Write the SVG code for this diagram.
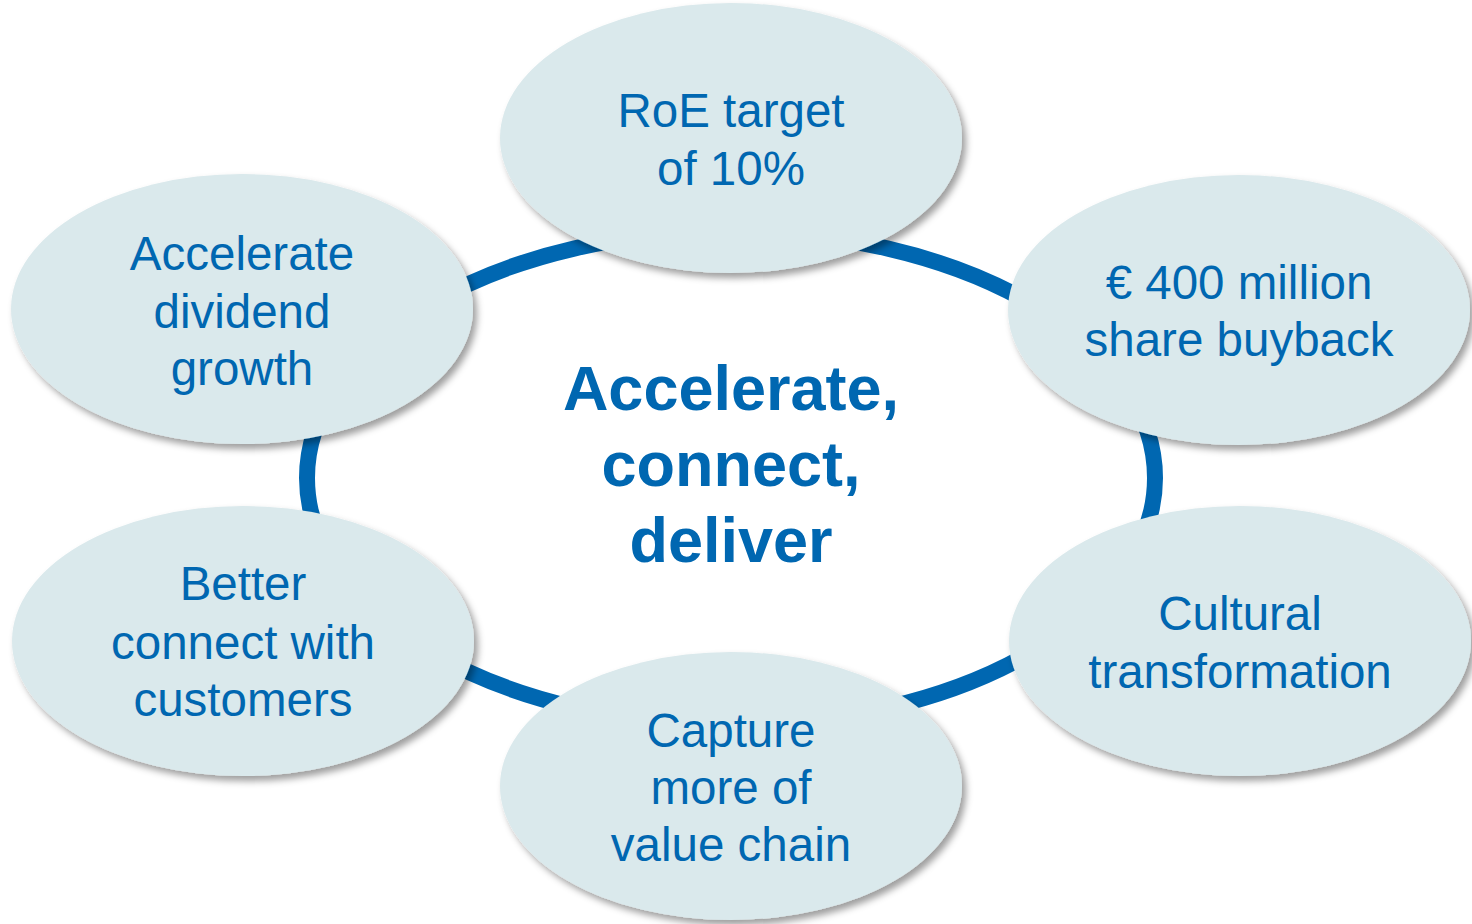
<svg xmlns="http://www.w3.org/2000/svg" width="1472" height="924" viewBox="0 0 1472 924">
  <defs>
    <filter id="shadow" x="-10%" y="-10%" width="125%" height="130%">
      <feDropShadow dx="4" dy="5" stdDeviation="3.5" flood-color="#000" flood-opacity="0.38"/>
    </filter>
    <style>
      .bubble { fill: #DAE9EC; filter: url(#shadow); }
      .label { font-family: "Liberation Sans", Arial, sans-serif; font-size: 47.5px; fill: #0067B1; text-anchor: middle; }
      .title { font-family: "Liberation Sans", Arial, sans-serif; font-size: 63px; font-weight: bold; fill: #0067B1; text-anchor: middle; }
      .ring { fill: none; stroke: #0067B1; stroke-width: 16; }
    </style>
  </defs>
  <rect width="1472" height="924" fill="#FFFFFF"/>

  <!-- connecting ring behind the bubbles -->
  <g id="connectors">
    <ellipse class="ring" cx="731" cy="478" rx="424" ry="247"/>
  </g>

  <g id="center">
    <text class="title" x="731" y="410">Accelerate,</text>
    <text class="title" x="731" y="486">connect,</text>
    <text class="title" x="731" y="562">deliver</text>
  </g>

  <g id="roe">
    <ellipse class="bubble" cx="731" cy="138" rx="231" ry="135"/>
    <text class="label" x="731" y="127">RoE target</text>
    <text class="label" x="731" y="185">of 10%</text>
  </g>

  <g id="buyback">
    <ellipse class="bubble" cx="1239" cy="310" rx="231" ry="135"/>
    <text class="label" x="1239" y="299">€ 400 million</text>
    <text class="label" x="1239" y="356">share buyback</text>
  </g>

  <g id="culture">
    <ellipse class="bubble" cx="1240" cy="641" rx="231" ry="135"/>
    <text class="label" x="1240" y="630">Cultural</text>
    <text class="label" x="1240" y="688">transformation</text>
  </g>

  <g id="value-chain">
    <ellipse class="bubble" cx="731" cy="786" rx="231" ry="134"/>
    <text class="label" x="731" y="747">Capture</text>
    <text class="label" x="731" y="804">more of</text>
    <text class="label" x="731" y="861">value chain</text>
  </g>

  <g id="customers">
    <ellipse class="bubble" cx="243" cy="641" rx="231" ry="135"/>
    <text class="label" x="243" y="600">Better</text>
    <text class="label" x="243" y="659">connect with</text>
    <text class="label" x="243" y="716">customers</text>
  </g>

  <g id="dividend">
    <ellipse class="bubble" cx="242" cy="309" rx="231" ry="135"/>
    <text class="label" x="242" y="270">Accelerate</text>
    <text class="label" x="242" y="328">dividend</text>
    <text class="label" x="242" y="385">growth</text>
  </g>
</svg>
